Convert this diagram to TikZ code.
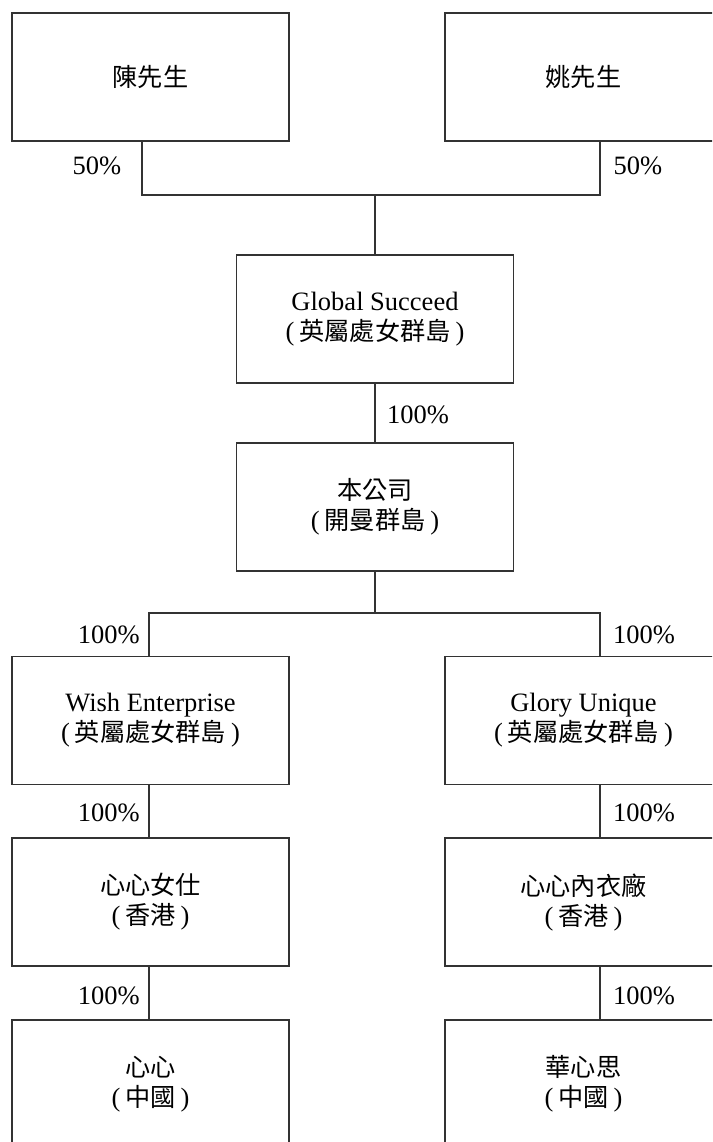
\documentclass[tikz,border=0pt]{standalone}
\usepackage{fontspec}
\setmainfont{Liberation Serif}
\newfontfamily\cjk[Scale=0.95]{Noto Sans CJK TC}
\newcommand{\zh}[1]{{\cjk #1}}
\newcommand{\paren}[1]{(\kern5pt\zh{#1}\kern5pt)}
\begin{document}
\begin{tikzpicture}[x=1pt,y=-1pt,
  entity/.style={draw=black!80,line width=1.1pt,minimum width=277pt,minimum height=128pt,
    align=center,inner sep=0pt,font=\fontsize{26.5}{30}\selectfont},
  link/.style={draw=black!80,line width=1.1pt},
  pct/.style={font=\fontsize{26.5}{30}\selectfont,inner sep=0pt}]
\clip (0,0) rectangle (712,1142);
\fill[white] (0,0) rectangle (712,1142);
\node[entity] (chen) at (150.5,77) {\zh{陳先生}};
\node[entity] (yao) at (583.5,77) {\zh{姚先生}};
\node[entity] (global) at (375,319) {Global Succeed\\\paren{英屬處女群島}};
\node[entity] (company) at (375,507) {\zh{本公司}\\\paren{開曼群島}};
\node[entity] (wish) at (150.5,720.5) {Wish Enterprise\\\paren{英屬處女群島}};
\node[entity] (glory) at (583.5,720.5) {Glory Unique\\\paren{英屬處女群島}};
\node[entity] (hkl) at (150.5,902) {\zh{心心女仕}\\\paren{香港}};
\node[entity] (hkr) at (583.5,902) {\zh{心心內衣廠}\\\paren{香港}};
\node[entity] (cnl) at (150.5,1084) {\zh{心心}\\\paren{中國}};
\node[entity] (cnr) at (583.5,1084) {\zh{華心思}\\\paren{中國}};
\coordinate (j1) at (375,195);
\coordinate (j2) at (375,613);
\draw[link] ([xshift=-8.5pt]chen.south) |- (j1);
\draw[link] ([xshift=16.5pt]yao.south) |- (j1);
\draw[link] (j1) -- (global.north);
\draw[link] (global.south) -- (company.north);
\draw[link] (company.south) -- (j2);
\draw[link] (j2) -| ([xshift=-1.5pt]wish.north);
\draw[link] (j2) -| ([xshift=16.5pt]glory.north);
\draw[link] ([xshift=-1.5pt]wish.south) -- ([xshift=-1.5pt]hkl.north);
\draw[link] ([xshift=-1.5pt]hkl.south) -- ([xshift=-1.5pt]cnl.north);
\draw[link] ([xshift=16.5pt]glory.south) -- ([xshift=16.5pt]hkr.north);
\draw[link] ([xshift=16.5pt]hkr.south) -- ([xshift=16.5pt]cnr.north);
\node[pct] (p1) at (97,166) {50\%};
\node[pct] (p2) at (638,166) {50\%};
\node[pct] (p3) at (418,415) {100\%};
\node[pct,anchor=east] (p4) at (140,635) {100\%};
\node[pct,anchor=west] (p5) at (613,635) {100\%};
\node[pct,anchor=east] (p6) at (140,813) {100\%};
\node[pct,anchor=west] (p7) at (613,813) {100\%};
\node[pct,anchor=east] (p8) at (140,996) {100\%};
\node[pct,anchor=west] (p9) at (613,996) {100\%};
\end{tikzpicture}
\end{document}
